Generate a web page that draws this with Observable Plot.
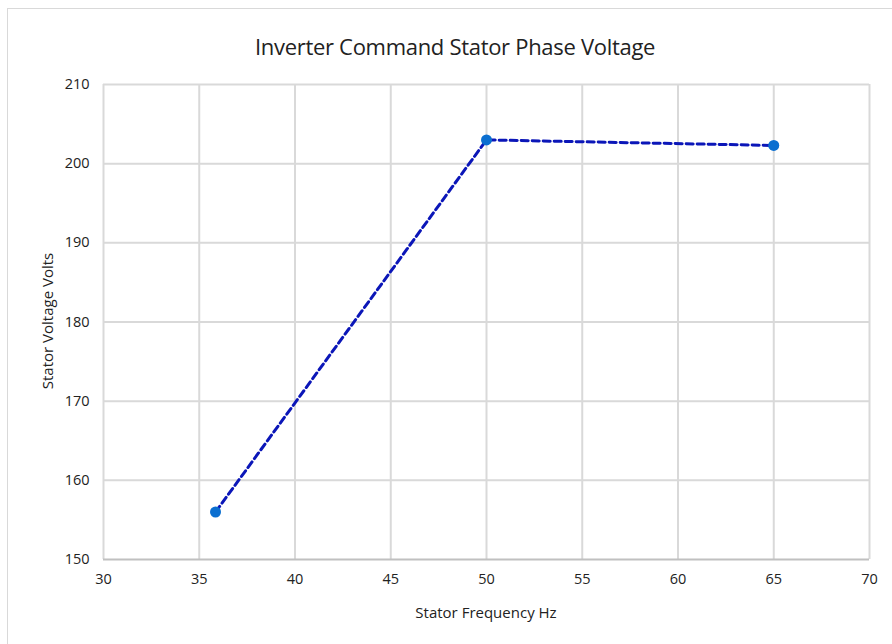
<!DOCTYPE html>
<html><head><meta charset="utf-8">
<script src="https://cdn.jsdelivr.net/npm/d3@7"></script>
<script src="https://cdn.jsdelivr.net/npm/@observablehq/plot@0.6"></script>
<style>
body{margin:0;background:#fff;font-family:"Open Sans",sans-serif;}
#wrap{position:relative;width:892px;height:644px;overflow:hidden;}
#frame{position:absolute;left:7px;top:8px;width:900px;height:650px;border:1px solid #d9d9d9;box-sizing:border-box;}
#title{position:absolute;left:0;width:910px;top:31px;text-align:center;font-size:22px;color:#222;letter-spacing:-0.3px;}
#chart{position:absolute;left:0;top:70px;}
#xlabel{position:absolute;left:0;width:972px;top:602px;text-align:center;font-size:15px;color:#222;}
#ylabel{position:absolute;left:47px;top:321px;transform:translate(-50%,-50%) rotate(-90deg);white-space:nowrap;font-size:15px;color:#222;}
</style></head>
<body><div id="wrap"><div id="frame"></div><div id="title">Inverter Command Stator Phase Voltage</div><div id="chart"></div>
<div id="xlabel">Stator Frequency Hz</div><div id="ylabel">Stator Voltage Volts</div></div>
<script>
const frequency = [35.85, 50, 65];
const voltage = [156.0, 203.0, 202.3];
const xTicks = [30, 35, 40, 45, 50, 55, 60, 65, 70];
const yTicks = [150, 160, 170, 180, 190, 200, 210];
const data = frequency.map((f, i) => ({f, v: voltage[i]}));
const plot = Plot.plot({
  width: 892, height: 574,
  marginTop: 14, marginBottom: 85, marginLeft: 103, marginRight: 23,
  style: {fontFamily: '"Open Sans",sans-serif', fontSize: "14.5px", color: "#222", background: "transparent"},
  x: {domain: [30, 70], ticks: xTicks, tickSize: 0, tickPadding: 14, label: null},
  y: {domain: [150, 210], ticks: yTicks, tickSize: 0, tickPadding: 14, label: null},
  marks: [
    Plot.ruleX(xTicks, {stroke: "#d9d9d9", strokeWidth: 2}),
    Plot.ruleY(yTicks.filter(d => d > 150), {stroke: "#d9d9d9", strokeWidth: 2}),
    Plot.ruleY([150], {stroke: "#c0c0c0", strokeWidth: 2}),
    Plot.line(data, {x: "f", y: "v", stroke: "#0b16b8", strokeWidth: 3, strokeDasharray: "7,4"}),
    Plot.dot(data, {x: "f", y: "v", r: 5.5, fill: "#0b6fd0", stroke: "none"})
  ]
});
document.getElementById("chart").append(plot);
</script></body></html>
